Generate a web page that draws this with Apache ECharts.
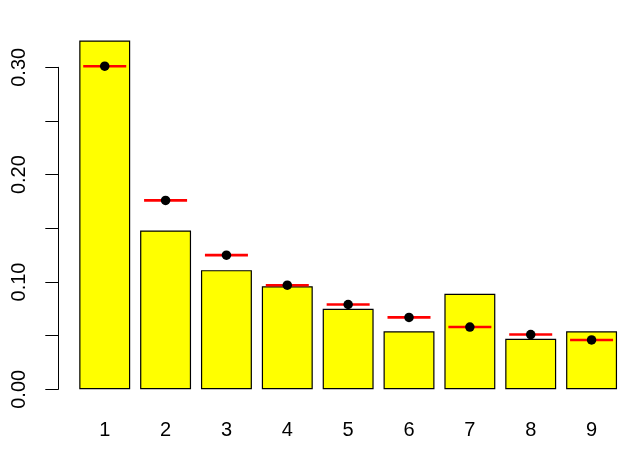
<!DOCTYPE html>
<html>
<head>
<meta charset="utf-8">
<script src="https://cdn.jsdelivr.net/npm/echarts@6/dist/echarts.min.js"></script>
<style>html,body{margin:0;padding:0;background:#fff}#c{width:640px;height:459px}</style>
</head>
<body>
<div id="c"></div>
<script>
var digits = ['1','2','3','4','5','6','7','8','9'];
var observed = [0.325, 0.148, 0.111, 0.096, 0.075, 0.054, 0.089, 0.047, 0.054];
var expected = [0.301, 0.176, 0.125, 0.097, 0.079, 0.067, 0.058, 0.051, 0.046];
var yTicks = ['0.00', '0.10', '0.20', '0.30'];

var chart = echarts.init(document.getElementById('c'), null, {renderer: 'canvas'});
var font = 'Liberation Sans, Arial, Helvetica, sans-serif';
chart.setOption({
  animation: false,
  backgroundColor: '#ffffff',
  grid: {left: 74.3, right: 18, top: 67.3, bottom: 69.7},
  xAxis: {
    type: 'category',
    data: digits,
    axisLine: {show: false},
    axisTick: {show: false},
    axisLabel: {color: '#000', fontFamily: font, fontSize: 20, margin: 31}
  },
  yAxis: {
    type: 'value',
    min: 0, max: 0.3, interval: 0.05,
    offset: 16,
    splitLine: {show: false},
    axisLine: {show: true, lineStyle: {color: '#000', width: 1}},
    axisTick: {show: true, length: 13, lineStyle: {color: '#000', width: 1}},
    axisLabel: {
      color: '#000', fontFamily: font, fontSize: 20, rotate: 90, margin: 29,
      formatter: function (v) {
        var s = v.toFixed(2);
        return yTicks.indexOf(s) >= 0 ? s : '';
      }
    }
  },
  series: [
    {
      type: 'bar',
      data: observed,
      clip: false,
      barCategoryGap: '16.3%',
      itemStyle: {color: '#ffff00', borderColor: '#000', borderWidth: 1.2}
    },
    {
      type: 'scatter',
      data: expected,
      clip: false,
      symbol: 'rect',
      symbolSize: [43, 2.6],
      itemStyle: {color: '#ff0000', opacity: 1},
      z: 3
    },
    {
      type: 'scatter',
      data: expected,
      clip: false,
      symbol: 'circle',
      symbolSize: 9.5,
      itemStyle: {color: '#000', opacity: 1},
      z: 4
    }
  ]
});
</script>
</body>
</html>
